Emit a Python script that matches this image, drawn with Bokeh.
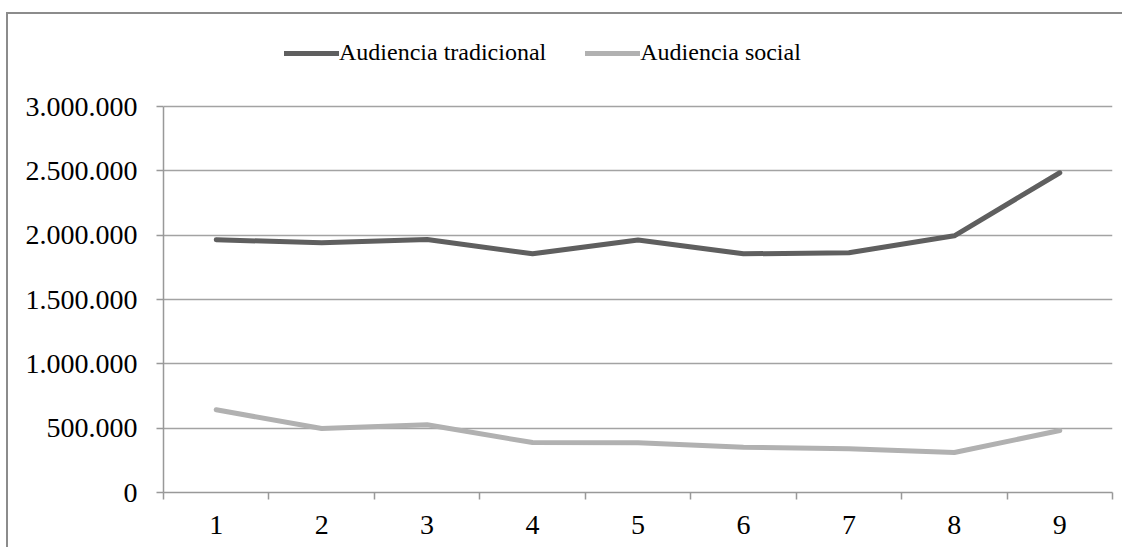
from bokeh.plotting import figure
from bokeh.models import Range1d, FixedTicker, Legend, LegendItem
from bokeh.embed import file_html
from bokeh.resources import INLINE

# ---- data ----
weeks = [1, 2, 3, 4, 5, 6, 7, 8, 9]
audiencia_tradicional = [1964000, 1941000, 1966000, 1855000, 1962000, 1855000, 1863000, 1995000, 2485000]
audiencia_social = [643000, 497000, 526000, 388000, 386000, 352000, 340000, 311000, 482000]
series_names = ["Audiencia tradicional", "Audiencia social"]
y_ticks = [0, 500000, 1000000, 1500000, 2000000, 2500000, 3000000]
y_tick_labels = ["0", "500.000", "1.000.000", "1.500.000", "2.000.000", "2.500.000", "3.000.000"]
x_tick_labels = ["1", "2", "3", "4", "5", "6", "7", "8", "9"]

# ---- styles ----
FONT = "Liberation Serif"
DARK = "#5f5f5f"
LIGHT = "#b1b1b1"
GRID = "#a3a3a3"
AXIS = "#999999"

# plot area: axis part is 386 px high for 0..3M; frame extends 92 px higher for the legend
FRAME_H = 478
AXIS_H = 386
y_top = y_ticks[-1] * FRAME_H / AXIS_H

p = figure(width=1116, height=535, output_backend="svg", toolbar_location=None,
           x_range=Range1d(0.5, 9.5), y_range=Range1d(0, y_top),
           min_border_left=155, min_border_right=12, min_border_top=0, min_border_bottom=57)
p.outline_line_color = None
p.background_fill_color = "white"
p.border_fill_color = "white"
p.styles = {"border-top": "2px solid #8c8c8c", "border-left": "2px solid #8c8c8c",
            "margin-top": "12px", "margin-left": "6px"}

r1 = p.line(weeks, audiencia_tradicional, line_color=DARK, line_width=5,
            line_cap="round", line_join="round")
r2 = p.line(weeks, audiencia_social, line_color=LIGHT, line_width=5,
            line_cap="round", line_join="round")

# x axis
xa = p.xaxis[0]
xa.ticker = FixedTicker(ticks=weeks, minor_ticks=[w - 0.5 for w in weeks] + [weeks[-1] + 0.5])
xa.major_label_overrides = {w: lab for w, lab in zip(weeks, x_tick_labels)}
xa.major_tick_out = 0
xa.major_tick_in = 0
xa.minor_tick_out = 7
xa.minor_tick_in = 0
xa.minor_tick_line_color = AXIS
xa.minor_tick_line_width = 1.5
xa.axis_line_color = AXIS
xa.axis_line_width = 1.5
xa.major_label_standoff = 16
xa.major_label_text_font = FONT
xa.major_label_text_font_size = "28px"
xa.major_label_text_color = "black"

# y axis
ya = p.yaxis[0]
ya.ticker = FixedTicker(ticks=y_ticks, minor_ticks=[])
ya.bounds = (y_ticks[0], y_ticks[-1])
ya.major_label_overrides = {t: lab for t, lab in zip(y_ticks, y_tick_labels)}
ya.major_tick_out = 7
ya.major_tick_in = 0
ya.major_tick_line_color = AXIS
ya.major_tick_line_width = 1.5
ya.minor_tick_line_color = None
ya.axis_line_color = AXIS
ya.axis_line_width = 1.5
ya.major_label_standoff = 19
ya.major_label_text_font = FONT
ya.major_label_text_font_size = "28px"
ya.major_label_text_color = "black"

p.xgrid.grid_line_color = None
p.ygrid.grid_line_color = GRID
p.ygrid.grid_line_width = 1.5

legend = Legend(items=[LegendItem(label=series_names[0], renderers=[r1]),
                       LegendItem(label=series_names[1], renderers=[r2])],
                orientation="horizontal", location=(121, 426))
legend.border_line_color = None
legend.background_fill_alpha = 0
legend.padding = 0
legend.margin = 0
legend.spacing = 39
legend.glyph_width = 55
legend.glyph_height = 20
legend.label_standoff = 0
legend.label_text_font = FONT
legend.label_text_font_size = "24px"
legend.label_text_color = "black"
p.add_layout(legend, "center")

open("out.html", "w").write(file_html(p, INLINE))
